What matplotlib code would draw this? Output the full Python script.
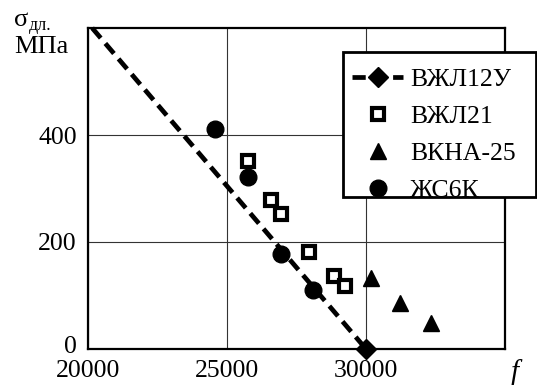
import matplotlib
matplotlib.use("Agg")
import matplotlib.pyplot as plt
from matplotlib.patches import Rectangle
from matplotlib.transforms import ScaledTranslation

plt.rcParams["font.family"] = "serif"
plt.rcParams["font.serif"] = ["Liberation Serif", "DejaVu Serif"]

# ---- data ----
line_f = [20150, 30000]          # ВЖЛ12У (dashed trend)
line_s = [600, 0]

sq_f = [25770, 26580, 26930, 27950, 28840, 29240]   # ВЖЛ21
sq_s = [352, 279, 252, 181, 137, 117]

tri_f = [30170, 31240, 32350]                        # ВКНА-25
tri_s = [133, 86, 49]

circ_f = [24580, 25740, 26930, 28100]                # ЖС6К
circ_s = [411, 321, 177, 111]

xticks = [20000, 25000, 30000]
yticks = [0, 200, 400]

W, H = 537, 385
fig = plt.figure(figsize=(W / 100, H / 100), dpi=100)
ax = fig.add_axes([88 / W, 1 - 349 / H, (505 - 88) / W, (349 - 28) / H])
ax.set_xlim(20000, 35000)
ax.set_ylim(0, 600)
ax.set_xticks(xticks)
ax.set_yticks(yticks)
ax.tick_params(length=0, labelsize=18.5, pad=8)
# the "0" label sits slightly above the x axis, clear of "20000"
zero = ax.get_yticklabels()[0]
zero.set_transform(zero.get_transform() + ScaledTranslation(0, 3.5 / 72, fig.dpi_scale_trans))
for sp in ax.spines.values():
    sp.set_linewidth(1.6)
ax.grid(True, color="#333333", linewidth=0.8)
ax.set_axisbelow(True)

ax.plot(line_f, line_s, color="black", lw=3.4, dashes=(2.8, 1.5),
        marker="D", markevery=[1], ms=10, clip_on=False, zorder=3,
        label="ВЖЛ12У")
ax.plot(sq_f, sq_s, ls="none", marker="s", ms=9, mfc="white", mec="black",
        mew=3, zorder=4, label="ВЖЛ21")
ax.plot(tri_f, tri_s, ls="none", marker="^", ms=12, color="black",
        zorder=4, label="ВКНА-25")
ax.plot(circ_f, circ_s, ls="none", marker="o", ms=12, color="black",
        zorder=5, label="ЖС6К")

# legend box: drawn separately so its size follows the reference
fig.patches.append(Rectangle((343 / W, 1 - 197 / H), (536 - 343) / W, (197 - 52) / H,
                             transform=fig.transFigure, facecolor="white",
                             edgecolor="black", linewidth=2, zorder=4))
leg = fig.legend(loc="upper left", bbox_to_anchor=(352 / W, 1 - 68 / H),
                 fontsize=18.5, frameon=False, borderpad=0,
                 labelspacing=0.55, handlelength=2.0, handletextpad=0.25,
                 borderaxespad=0)
leg.set_zorder(5)

fig.text(14 / W, 1 - 26 / H, "σ", fontsize=19, ha="left", va="baseline")
fig.text(29 / W, 1 - 30 / H, "дл.", fontsize=13, ha="left", va="baseline")
fig.text(14 / W, 1 - 53 / H, "МПа", fontsize=19, ha="left", va="baseline")
fig.text(511 / W, 1 - 380 / H, "f", fontsize=21, style="italic", ha="left", va="baseline")

fig.savefig("out.png", dpi=100)
